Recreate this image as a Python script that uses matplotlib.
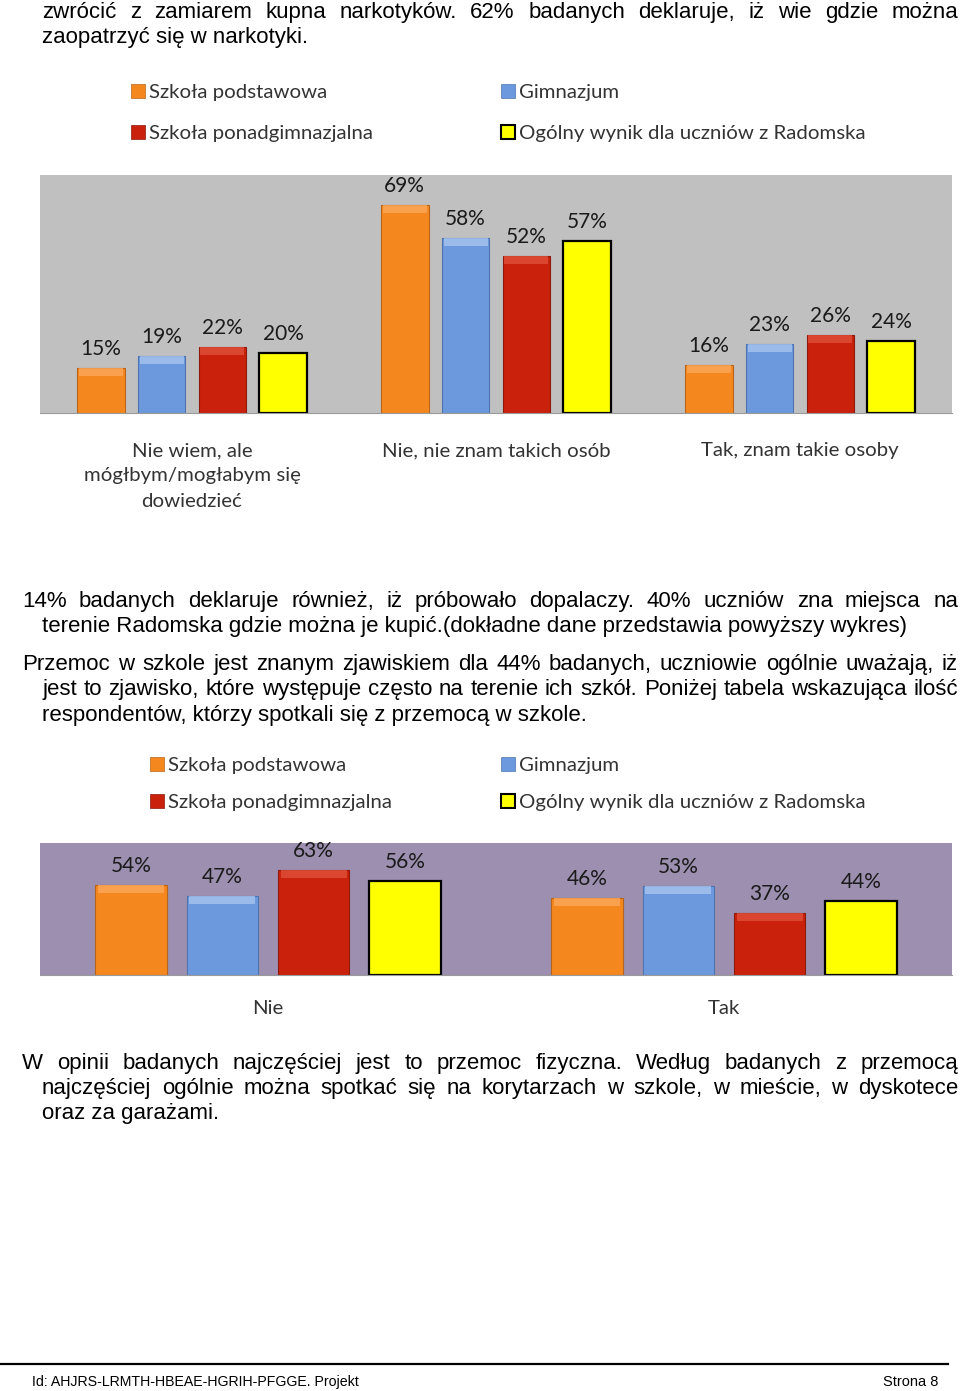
import matplotlib
matplotlib.use('Agg')
import matplotlib.pyplot as plt
from matplotlib.patches import Patch
from matplotlib.lines import Line2D

W, H = 960, 1391

# --- dane ---
series = ['Szkoła podstawowa', 'Gimnazjum', 'Szkoła ponadgimnazjalna',
          'Ogólny wynik dla uczniów z Radomska']
colors = ['#F5871F', '#6C98DD', '#C9210B', '#FFFF00']
caps = ['#FBA85A', '#A7C4EF', '#E0503A', '#FFFF00']
edges = ['#B8641A', '#4E74B0', '#8E1A0C', '#000000']

cats1 = ['Nie wiem, ale\nmógłbym/mogłabym się\ndowiedzieć',
         'Nie, nie znam takich osób', 'Tak, znam takie osoby']
vals1 = [[15, 69, 16],   # szkoła podstawowa
         [19, 58, 23],   # gimnazjum
         [22, 52, 26],   # ponadgimnazjalna
         [20, 57, 24]]   # ogólny wynik

cats2 = ['Nie', 'Tak']
vals2 = [[54, 46],
         [47, 53],
         [63, 37],
         [56, 44]]

body = [
    ('zwrócić z zamiarem kupna narkotyków. 62% badanych deklaruje, iż wie gdzie można', 11, 42, True),
    ('zaopatrzyć się w narkotyki.', 36, 42, False),
    ('14% badanych deklaruje również, iż próbowało dopalaczy. 40% uczniów zna miejsca na', 600, 22, True),
    ('terenie Radomska gdzie można je kupić.(dokładne dane przedstawia powyższy wykres)', 625, 42, False),
    ('Przemoc w szkole jest znanym zjawiskiem dla 44% badanych, uczniowie ogólnie uważają, iż', 663, 22, True),
    ('jest to zjawisko, które występuje często na terenie ich szkół. Poniżej tabela wskazująca ilość', 688, 42, True),
    ('respondentów, którzy spotkali się z przemocą w szkole.', 714, 42, False),
    ('W opinii badanych najczęściej jest to przemoc fizyczna. Według badanych z przemocą', 1062, 22, True),
    ('najczęściej ogólnie można spotkać się na korytarzach w szkole, w mieście, w dyskotece', 1087, 42, True),
    ('oraz za garażami.', 1112, 42, False),
]

BODY_FONT = ['Liberation Sans', 'DejaVu Sans']
CHART_FONT = ['Lato', 'DejaVu Sans']
CH_SIZE = 14.7

fig = plt.figure(figsize=(W / 100, H / 100), dpi=100)
renderer = fig.canvas.get_renderer()


def fy(px):
    return 1 - px / H


def text_line(s, ypx, x0, justify, x1=958, size=16):
    base = fy(ypx + 7)
    if not justify:
        fig.text(x0 / W, base, s, ha='left', va='baseline', fontsize=size,
                 family=BODY_FONT, color='black')
        return
    words = s.split(' ')
    objs = [fig.text(0, base, w, ha='left', va='baseline', fontsize=size,
                     family=BODY_FONT, color='black') for w in words]
    widths = [o.get_window_extent(renderer).width for o in objs]
    gap = (x1 - x0 - sum(widths)) / (len(words) - 1)
    x = x0
    for o, w in zip(objs, widths):
        o.set_x(x / W)
        x += w + gap


for s, ypx, x0, j in body:
    text_line(s, ypx, x0, j)


def chart(top, bottom, cats, vals, bg, label_y, legend_x, legend_top, row_gap, off):
    ax = fig.add_axes([40 / W, fy(bottom), 912 / W, (bottom - top) / H])
    ax.set_facecolor(bg)
    n = len(cats)
    ymax = 79
    cap = 8 / (bottom - top) * ymax
    for i in range(4):
        xs = [c + (i - 1.5) * 0.2 for c in range(n)]
        ax.bar(xs, vals[i], width=0.157, color=colors[i], edgecolor=edges[i],
               linewidth=1.6 if i == 3 else 0.8, zorder=2)
        if i < 3:
            ax.bar(xs, [cap] * n, bottom=[v - cap for v in vals[i]], width=0.145,
                   color=caps[i], linewidth=0, zorder=3, alpha=0.8)
        for x, v in zip(xs, vals[i]):
            ax.annotate(f'{v}%', (x, v), xytext=(0, off), textcoords='offset points',
                        ha='center', va='bottom', fontsize=15, family=CHART_FONT,
                        color='#1a1a1a')
    ax.set_xlim(-0.5, n - 0.5)
    ax.set_ylim(0, ymax)
    ax.set_xticks([])
    ax.set_yticks([])
    for sp in ['top', 'right', 'left']:
        ax.spines[sp].set_visible(False)
    ax.spines['bottom'].set_color('#9a9a9a')
    for c, lab in enumerate(cats):
        xc = 40 + 912 * (c + 0.5) / n
        fig.text(xc / W, fy(label_y), lab, ha='center', va='top', fontsize=CH_SIZE,
                 family=CHART_FONT, color='#333333', linespacing=1.6)
    handles = [Patch(facecolor=colors[i], edgecolor=edges[i],
                     linewidth=1.5 if i == 3 else 0.5) for i in range(4)]
    for col, idx in enumerate([(0, 2), (1, 3)]):
        leg = fig.legend([handles[k] for k in idx], [series[k] for k in idx],
                         loc='upper left',
                         bbox_to_anchor=(legend_x[col] / W, fy(legend_top)),
                         frameon=False, handlelength=0.7, handleheight=0.7,
                         handletextpad=0.2, borderpad=0, borderaxespad=0,
                         labelspacing=row_gap, prop={'family': CHART_FONT, 'size': CH_SIZE})
        for t in leg.get_texts():
            t.set_color('#333333')
    return ax


chart(175, 413, cats1, vals1, '#C0C0C0', 442, (131, 501), 84, 1.15, 6.5)
chart(843, 975, cats2, vals2, '#9C8FAF', 1000, (150, 501), 757, 0.95, 6.5)

# stopka
fig.add_artist(Line2D([0, 948 / W], [fy(1364), fy(1364)], color='black',
                      linewidth=1.6, transform=fig.transFigure))
fig.text(32 / W, fy(1382), 'Id: AHJRS-LRMTH-HBEAE-HGRIH-PFGGE. Projekt', ha='left',
         va='center', fontsize=10.2, family=BODY_FONT)
fig.text(938 / W, fy(1382), 'Strona 8', ha='right', va='center', fontsize=10.5,
         family=BODY_FONT)

fig.savefig('out.png', dpi=100, facecolor='white')
